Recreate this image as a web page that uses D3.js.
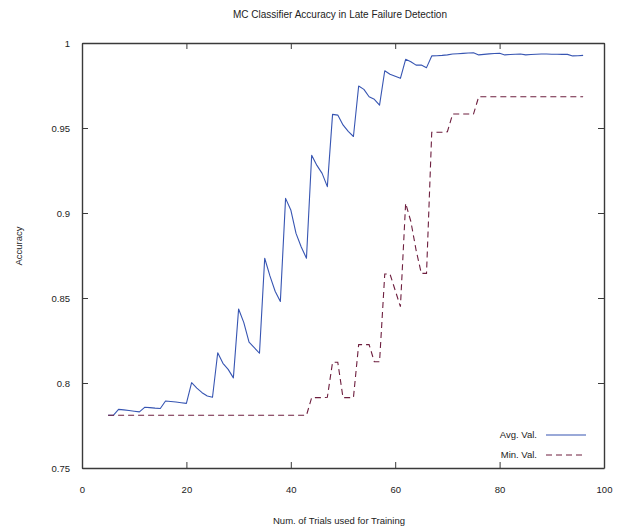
<!DOCTYPE html>
<html>
<head>
<meta charset="utf-8">
<script src="https://cdn.jsdelivr.net/npm/d3@7"></script>
<style>
  html, body { margin: 0; padding: 0; background: #ffffff; }
  svg { display: block; font-family: 'Liberation Sans', Arial, sans-serif; }
</style>
</head>
<body>
<div id="chart"></div>
<script>
// Number of training trials (x values of both series)
const trials = [
  5, 6, 7, 8, 9, 10, 11, 12, 13, 14, 15, 16, 17, 18, 19, 20,
  21, 22, 23, 24, 25, 26, 27, 28, 29, 30, 31, 32, 33, 34, 35, 36,
  37, 38, 39, 40, 41, 42, 43, 44, 45, 46, 47, 48, 49, 50, 51, 52,
  53, 54, 55, 56, 57, 58, 59, 60, 61, 62, 63, 64, 65, 66, 67, 68,
  69, 70, 71, 72, 73, 74, 75, 76, 77, 78, 79, 80, 81, 82, 83, 84,
  85, 86, 87, 88, 89, 90, 91, 92, 93, 94, 95, 96
];

// Average accuracy
const avgValues = [
  0.781, 0.781, 0.7845, 0.7842, 0.7838, 0.7834, 0.783, 0.7857, 0.7855, 0.7852, 0.785, 0.7894, 0.7891, 0.7888, 0.7884, 0.788,
  0.8002, 0.797, 0.7943, 0.7924, 0.7916, 0.8178, 0.8116, 0.808, 0.803, 0.8435, 0.8355, 0.824, 0.8208, 0.8175, 0.8734, 0.863,
  0.854, 0.848, 0.9086, 0.9018, 0.888, 0.880, 0.8734, 0.934, 0.928, 0.9233, 0.9155, 0.958, 0.9576, 0.9518, 0.948, 0.945,
  0.9747, 0.9727, 0.9684, 0.9669, 0.9635, 0.9837, 0.9816, 0.9804, 0.9792, 0.9904, 0.989, 0.987, 0.987, 0.9855, 0.9924, 0.9925,
  0.9927, 0.993, 0.9935, 0.9937, 0.9939, 0.9941, 0.9943, 0.993, 0.9933, 0.9936, 0.9938, 0.994, 0.993, 0.9932, 0.9934, 0.9935,
  0.993, 0.9932, 0.9934, 0.9935, 0.9935, 0.9934, 0.9934, 0.9933, 0.9933, 0.9924, 0.9925, 0.9927
];

// Minimum accuracy
const minValues = [
  0.781, 0.781, 0.781, 0.781, 0.781, 0.781, 0.781, 0.781, 0.781, 0.781, 0.781, 0.781, 0.781, 0.781, 0.781, 0.781,
  0.781, 0.781, 0.781, 0.781, 0.781, 0.781, 0.781, 0.781, 0.781, 0.781, 0.781, 0.781, 0.781, 0.781, 0.781, 0.781,
  0.781, 0.781, 0.781, 0.781, 0.781, 0.781, 0.781, 0.7914, 0.7914, 0.7914, 0.7916, 0.8122, 0.8122, 0.7914, 0.7914, 0.7914,
  0.8226, 0.8226, 0.8226, 0.8125, 0.8125, 0.8641, 0.8641, 0.8545, 0.8449, 0.9057, 0.895, 0.8782, 0.8645, 0.8645, 0.9475, 0.9475,
  0.9475, 0.9478, 0.9582, 0.9582, 0.9582, 0.9582, 0.9582, 0.9684, 0.9684, 0.9684, 0.9684, 0.9684, 0.9684, 0.9684, 0.9684, 0.9684,
  0.9684, 0.9684, 0.9684, 0.9684, 0.9684, 0.9684, 0.9684, 0.9684, 0.9684, 0.9684, 0.9684, 0.9684
];

// Axis ticks
const xTicks = [0, 20, 40, 60, 80, 100];
const yTicks = [0.75, 0.8, 0.85, 0.9, 0.95, 1];
const yTickLabels = ['0.75', '0.8', '0.85', '0.9', '0.95', '1'];

const seriesNames = ['Avg. Val.', 'Min. Val.'];

(function() {
  const fullWidth = 619;
  const fullHeight = 529;
  const margin = { top: 43, right: 15, bottom: 61, left: 82 };
  const width = fullWidth - margin.left - margin.right;
  const height = fullHeight - margin.top - margin.bottom;

  const textColor = '#222222';
  const frameColor = '#3a3a3a';
  const avgColor = '#3755b2';
  const minColor = '#6e1f3f';
  const tickLen = 6;

  const svg = d3.select('#chart')
    .append('svg')
    .attr('width', fullWidth)
    .attr('height', fullHeight);

  const g = svg.append('g')
    .attr('transform', `translate(${margin.left}, ${margin.top})`);

  const x = d3.scaleLinear().domain([0, 100]).range([0, width]);
  const y = d3.scaleLinear().domain([0.75, 1]).range([height, 0]);

  // Bottom axis with inward ticks
  const bottomAxis = g.append('g')
    .attr('transform', `translate(0, ${height})`)
    .call(d3.axisBottom(x).tickValues(xTicks).tickSizeInner(-tickLen).tickSizeOuter(0).tickPadding(18));

  // Top axis (ticks only)
  const topAxis = g.append('g')
    .call(d3.axisTop(x).tickValues(xTicks).tickSizeInner(-tickLen).tickSizeOuter(0).tickFormat(''));

  // Left axis with labels
  const leftAxis = g.append('g')
    .call(d3.axisLeft(y).tickValues(yTicks).tickSizeInner(-tickLen).tickSizeOuter(0).tickPadding(12)
      .tickFormat((d, i) => yTickLabels[i]));

  // Right axis (ticks only)
  const rightAxis = g.append('g')
    .attr('transform', `translate(${width}, 0)`)
    .call(d3.axisRight(y).tickValues(yTicks).tickSizeInner(-tickLen).tickSizeOuter(0).tickFormat(''));

  [bottomAxis, topAxis, leftAxis, rightAxis].forEach(function(a) {
    a.select('.domain').attr('stroke', frameColor).attr('stroke-width', 1.4);
    a.selectAll('.tick line').attr('stroke', frameColor).attr('stroke-width', 1);
    a.selectAll('.tick text')
      .style('font-size', '9.5px')
      .style('font-family', "'Liberation Sans', Arial, sans-serif")
      .style('fill', textColor);
  });

  // Lines
  const seriesLine = d3.line()
    .x((d, i) => x(trials[i]))
    .y(d => y(d));

  g.append('path')
    .datum(avgValues)
    .attr('fill', 'none')
    .attr('stroke', avgColor)
    .attr('stroke-width', 1.1)
    .attr('stroke-linejoin', 'round')
    .attr('d', seriesLine);

  g.append('path')
    .datum(minValues)
    .attr('fill', 'none')
    .attr('stroke', minColor)
    .attr('stroke-width', 1.1)
    .attr('stroke-dasharray', '6,4')
    .attr('d', seriesLine);

  // Legend
  const legend = g.append('g')
    .attr('transform', `translate(${width - 58}, ${height - 33})`);

  const legendItems = legend.selectAll('.legend-item')
    .data(seriesNames)
    .enter()
    .append('g')
    .attr('class', 'legend-item')
    .attr('transform', (d, i) => `translate(0, ${i * 20})`);

  legendItems.append('line')
    .attr('x1', 0)
    .attr('x2', 40)
    .attr('y1', 0)
    .attr('y2', 0)
    .attr('stroke', (d, i) => i === 0 ? avgColor : minColor)
    .attr('stroke-width', 1.1)
    .attr('stroke-dasharray', (d, i) => i === 0 ? null : '6,4');

  legendItems.append('text')
    .attr('x', -9)
    .attr('y', 0)
    .attr('dy', '0.35em')
    .attr('text-anchor', 'end')
    .style('font-size', '9.5px')
    .style('fill', textColor)
    .text(d => d);

  // Title
  svg.append('text')
    .attr('x', margin.left + width / 2 - 3)
    .attr('y', 18)
    .attr('text-anchor', 'middle')
    .style('font-size', '10px')
    .style('fill', textColor)
    .text('MC Classifier Accuracy in Late Failure Detection');

  // Axis titles
  svg.append('text')
    .attr('x', 339)
    .attr('y', 524)
    .attr('text-anchor', 'middle')
    .style('font-size', '9.5px')
    .style('fill', textColor)
    .text('Num. of Trials used for Training');

  svg.append('text')
    .attr('transform', 'translate(22, 246) rotate(-90)')
    .attr('text-anchor', 'middle')
    .style('font-size', '9.5px')
    .style('fill', textColor)
    .text('Accuracy');
})();
</script>
</body>
</html>
